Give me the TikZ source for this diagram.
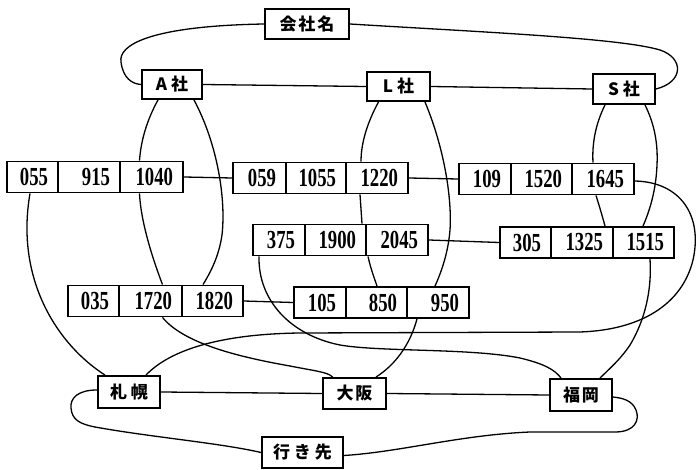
\documentclass[tikz,border=0pt]{standalone}
\usepackage{fontspec}
\usepackage{graphicx}
\setmainfont{Liberation Serif}
\newfontfamily\jp{Noto Sans CJK JP}
\usetikzlibrary{backgrounds}
\tikzset{
 box/.style={draw, line width=1.9pt, fill=white, inner sep=0pt, font=\jp\bfseries\fontsize{17}{17}\selectfont},
 cell/.style={draw, line width=1.9pt, fill=white, inner xsep=10pt, inner ysep=0pt, minimum height=31pt, align=right, font=\bfseries\fontsize{26}{26}\selectfont},
 link/.style={line width=1.3pt},
}
\newcommand\tcell[5]{\pgfmathsetmacro\cw{#3-#2}\pgfmathsetmacro\cx{(#2+#3)/2}\pgfmathsetmacro\tw{#3-#2-20}\node[cell, minimum width=\cw pt, text width=\tw pt] (#1) at (\cx,#4) {\scalebox{0.72}[1]{#5}};}
\begin{document}
\begin{tikzpicture}[x=1pt,y=-1pt]
\useasboundingbox (0,0) rectangle (696,470);
% label boxes
\node[box, minimum width=84pt, minimum height=30pt] (nK) at (307,24) {会\kern2pt 社\kern2pt 名};
\node[box, minimum width=60pt, minimum height=29pt] (nA) at (172,84.5) {A\kern4pt 社};
\node[box, minimum width=63pt, minimum height=29pt] (nL) at (398.5,86.5) {L\kern4pt 社};
\node[box, minimum width=62pt, minimum height=30pt] (nS) at (624,89) {S\kern4pt 社};
\node[box, minimum width=62pt, minimum height=32pt] (nSap) at (129,392) {札\kern4pt 幌};
\node[box, minimum width=63pt, minimum height=31pt] (nOsa) at (354.5,393.5) {大\kern2pt 阪};
\node[box, minimum width=62pt, minimum height=32pt] (nFuk) at (581,395) {福\kern2pt 岡};
\node[box, minimum width=81pt, minimum height=31pt] (nIki) at (302.5,452.5) {行\kern4pt き\kern4pt 先};
% time cells
\tcell{c055}{7}{58}{177}{055}
\tcell{c915}{58}{120}{177}{915}
\tcell{c1040}{120}{183}{177}{1040}
\tcell{c059}{233}{286}{178}{059}
\tcell{c1055}{286}{346}{178}{1055}
\tcell{c1220}{346}{408}{178}{1220}
\tcell{c109}{459}{511}{179}{109}
\tcell{c1520}{511}{572}{179}{1520}
\tcell{c1645}{572}{634}{179}{1645}
\tcell{c375}{253}{305}{240}{375}
\tcell{c1900}{305}{366}{240}{1900}
\tcell{c2045}{366}{428}{240}{2045}
\tcell{c305}{500}{551}{242.5}{305}
\tcell{c1325}{551}{613}{242.5}{1325}
\tcell{c1515}{613}{674}{242.5}{1515}
\tcell{c035}{68}{119}{301}{035}
\tcell{c1720}{119}{182}{301}{1720}
\tcell{c1820}{182}{243}{301}{1820}
\tcell{c105}{294}{346}{302.5}{105}
\tcell{c850}{346}{407}{302.5}{850}
\tcell{c950}{407}{469}{302.5}{950}
\begin{pgfonlayer}{background}
\begin{scope}[link]
% company loop
\draw (nK.west) .. controls (150,26) and (118,45) .. (121,62) .. controls (123,78) and (132,84) .. (nA.west);
\draw (nK.east) .. controls (480,32) and (620,38) .. (660,50) .. controls (684,58) and (684,82) .. (nS.east);
\draw (nA.east) -- (nL.west);
\draw (nL.east) -- (nS.west);
% A company
\draw ([xshift=-14pt]nA.south) .. controls (147,120) and (141,140) .. ([xshift=-12pt]c1040.north);
\draw ([xshift=-12pt]c1040.south) .. controls (141,225) and (155,265) .. ([xshift=12pt]c1720.north);
\draw ([xshift=12pt]c1720.south) .. controls (185,345) and (245,358) .. (290,366) .. controls (315,371) and (328,372) .. ([xshift=-22pt]nOsa.north);
\draw ([xshift=22pt]nA.south) .. controls (218,145) and (226,200) .. (222,235) .. controls (219,255) and (212,270) .. ([xshift=-9.5pt]c1820.north);
% L company
\draw ([xshift=-20pt]nL.south) .. controls (366,125) and (361,145) .. ([xshift=-16pt]c1220.north);
\draw ([xshift=-17pt]c1220.south) -- ([xshift=26.5pt]c1900.north);
\draw ([xshift=-29pt]c2045.south) .. controls (371,270) and (375,280) .. ([xshift=0.5pt]c850.north);
\draw ([xshift=26.5pt]nL.south) .. controls (445,150) and (452,200) .. (450,230) .. controls (448,255) and (440,275) .. ([xshift=-3pt]c950.north);
\draw ([xshift=-21pt]c950.south) .. controls (410,345) and (395,365) .. ([xshift=21.5pt]nOsa.north);
% S company
\draw ([xshift=-19pt]nS.south) .. controls (595,125) and (592,145) .. ([xshift=-10pt]c1645.north);
\draw ([xshift=-7pt]c1645.south) .. controls (599,205) and (602,215) .. ([xshift=23pt]c1325.north);
\draw ([xshift=21pt]nS.south) .. controls (655,125) and (658,145) .. (657,165) .. controls (656,190) and (650,210) .. ([xshift=-0.5pt]c1515.north);
% flight chains
\draw (c1040.east) -- (c059.west);
\draw (c1220.east) -- (c109.west);
\draw (c2045.east) -- (c305.west);
\draw (c1820.east) -- (c105.west);
% to destinations
\draw ([xshift=-2.5pt]c055.south) .. controls (15,280) and (58,345) .. ([xshift=-24pt]nSap.north);
\draw ([xshift=-20pt]c375.south) .. controls (258,300) and (290,335) .. (340,345) .. controls (380,352) and (470,348) .. (520,358) .. controls (545,364) and (555,370) .. ([xshift=-20pt]nFuk.north);
\draw ([yshift=-2pt]c1645.east) .. controls (680,182) and (703,215) .. (693,260) .. controls (682,305) and (640,330) .. (580,332) -- (300,333) .. controls (220,334) and (170,350) .. ([xshift=17pt]nSap.north);
\draw ([xshift=6.5pt]c1515.south) .. controls (652,290) and (645,320) .. (630,345) .. controls (620,360) and (608,370) .. ([xshift=19pt]nFuk.north);
% destination loop
\draw (nSap.east) -- (nOsa.west);
\draw (nOsa.east) -- (nFuk.west);
\draw ([yshift=2pt]nSap.west) .. controls (78,390) and (70,398) .. (71,408) .. controls (72,420) and (80,424) .. (95,427) .. controls (150,437) and (220,443) .. (nIki.west);
\draw ([yshift=-3pt]nIki.east) .. controls (400,452) and (460,435) .. (530,432) -- (615,432) .. controls (635,432) and (640,420) .. (636,410) .. controls (632,400) and (622,398) .. ([yshift=-2pt]nFuk.east);
\end{scope}
\end{pgfonlayer}
\end{tikzpicture}
\end{document}
